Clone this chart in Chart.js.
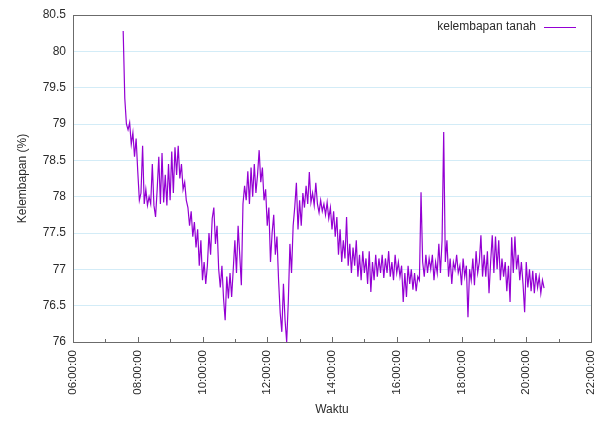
<!DOCTYPE html>
<html>
<head>
<meta charset="utf-8">
<title>Kelembapan tanah</title>
<script src="https://cdn.jsdelivr.net/npm/chart.js@4.4.1/dist/chart.umd.min.js"></script>
<style>
  html, body { margin: 0; padding: 0; background: #fff; }
  #wrap { width: 600px; height: 421px; }
</style>
</head>
<body>
<div id="wrap"><canvas id="chart" width="600" height="421"></canvas></div>
<script>
// --- DATA ---
// readings every 3 minutes, first one at 07:33
const startHour = 7.55;
const stepMinutes = 3;
const seriesLabel = "kelembapan tanah";
const moisture = [
  // 07:33 - 08:30
  80.28, 79.35, 79.00, 78.92, 79.02, 78.72, 78.88, 78.55, 78.80, 78.35,
  77.95, 78.05, 78.70, 77.90, 78.10, 77.88, 78.00, 77.90, 78.45, 77.88,
  // 08:33 - 09:30
  77.72, 78.10, 78.55, 77.90, 78.60, 77.92, 78.30, 77.88, 78.45, 77.95,
  78.62, 78.05, 78.68, 78.30, 78.70, 78.25, 78.45, 78.10, 78.20, 77.95,
  // 09:33 - 10:30
  77.85, 77.60, 77.80, 77.45, 77.65, 77.30, 77.55, 77.05, 77.40, 76.85,
  77.10, 76.80, 77.05, 77.50, 77.20, 77.70, 77.85, 77.35, 77.60, 77.00,
  // 10:33 - 11:30
  76.75, 77.05, 76.60, 76.30, 76.90, 76.60, 76.95, 76.62, 77.00, 77.40,
  76.95, 77.60, 77.20, 76.78, 77.90, 78.15, 77.95, 78.35, 77.90, 78.40,
  // 11:33 - 12:30
  78.00, 78.45, 78.05, 78.30, 78.64, 78.20, 78.40, 77.95, 78.10, 77.60,
  77.85, 77.10, 77.50, 77.75, 77.20, 77.45, 76.85, 76.40, 76.14, 76.80,
  // 12:33 - 13:30
  76.30, 76.00, 76.55, 77.35, 76.95, 77.60, 77.86, 78.19, 77.55, 77.95,
  77.60, 78.05, 77.85, 78.15, 77.90, 78.34, 77.92, 78.05, 77.88, 78.19,
  // 13:33 - 14:30
  77.90, 77.78, 77.95, 77.80, 77.90, 77.75, 77.92, 77.70, 77.85, 77.55,
  77.80, 77.45, 77.72, 77.20, 77.55, 77.10, 77.40, 77.15, 77.72, 77.05,
  // 14:33 - 15:30
  77.35, 76.95, 77.30, 77.05, 77.40, 76.90, 77.20, 76.85, 77.25, 76.95,
  77.15, 76.80, 77.25, 76.69, 77.10, 76.85, 77.20, 76.90, 77.15, 76.95,
  // 15:33 - 16:30
  77.20, 76.88, 77.15, 76.95, 77.25, 76.90, 77.10, 76.85, 77.20, 76.95,
  77.10, 76.90, 77.05, 76.55, 76.95, 76.62, 77.05, 76.80, 77.00, 76.72,
  // 16:33 - 17:30
  76.95, 76.70, 76.90, 76.85, 78.06, 77.10, 76.90, 77.20, 76.95, 77.15,
  77.00, 77.20, 76.85, 77.10, 76.95, 77.35, 76.95, 77.40, 78.89, 77.10,
  // 17:33 - 18:30
  77.40, 76.90, 77.15, 76.80, 77.10, 77.00, 77.20, 76.95, 77.05, 76.78,
  77.15, 76.90, 77.05, 76.34, 77.00, 76.85, 77.15, 76.78, 77.25, 76.95,
  // 18:33 - 19:30
  77.10, 77.47, 76.90, 77.20, 76.90, 77.25, 76.67, 77.10, 77.47, 76.95,
  77.45, 77.00, 77.40, 76.85, 77.15, 76.90, 77.10, 76.70, 77.05, 76.55,
  // 19:33 - 20:33
  77.44, 76.95, 77.45, 77.00, 77.20, 76.85, 77.10, 76.80, 76.41, 77.10,
  76.75, 77.00, 76.70, 76.98, 76.67, 76.95, 76.75, 76.90, 76.67, 76.85,
  76.74
];

// axis ranges (hours of the day / percent)
const xMin = 6, xMax = 22, xStep = 2;
const yMin = 76, yMax = 80.5, yStep = 0.5;

// --- STYLE ---
const LINE_COLOR = "#9400d3";
const GRID_COLOR = "#d3ecf7";
const BORDER_COLOR = "#6b6b6b";
const TEXT_COLOR = "#2b2b2b";
const FONT = "'Liberation Sans', Arial, Helvetica, sans-serif";

const points = moisture.map((v, i) => ({ x: startHour + i * stepMinutes / 60, y: v }));

function hourLabel(v) {
  const h = Math.round(v);
  return (h < 10 ? "0" + h : "" + h) + ":00:00";
}

// plot frame, inward hour ticks and the gnuplot-like key in the top right corner
const framePlugin = {
  id: "frame",
  afterDraw(chart) {
    const { ctx, chartArea: a, scales } = chart;
    ctx.save();
    ctx.strokeStyle = BORDER_COLOR;
    ctx.lineWidth = 1;
    ctx.strokeRect(a.left + 0.5, a.top + 0.5, a.right - a.left, a.bottom - a.top);

    // ticks every hour, longer on labelled ones
    for (let h = xMin + 1; h < xMax; h++) {
      const px = Math.round(scales.x.getPixelForValue(h)) + 0.5;
      const len = h % xStep === 0 ? 5 : 3;
      ctx.beginPath();
      ctx.moveTo(px, a.bottom);
      ctx.lineTo(px, a.bottom - len);
      ctx.stroke();
    }

    // key
    const ky = a.top + 12;
    ctx.font = "12px " + FONT;
    ctx.fillStyle = TEXT_COLOR;
    ctx.textAlign = "right";
    ctx.textBaseline = "middle";
    ctx.fillText(seriesLabel, a.right - 55, ky);
    ctx.strokeStyle = LINE_COLOR;
    ctx.beginPath();
    ctx.moveTo(a.right - 47, ky + 0.5);
    ctx.lineTo(a.right - 15, ky + 0.5);
    ctx.stroke();
    ctx.restore();
  }
};

const ctx = document.getElementById("chart").getContext("2d");
new Chart(ctx, {
  type: "line",
  data: {
    datasets: [{
      label: seriesLabel,
      data: points,
      borderColor: LINE_COLOR,
      borderWidth: 1.2,
      pointRadius: 0,
      tension: 0,
      fill: false
    }]
  },
  options: {
    responsive: false,
    animation: false,
    devicePixelRatio: 1,
    parsing: false,
    layout: { padding: { top: 15, right: 9, left: 0, bottom: 0 } },
    plugins: {
      legend: { display: false },
      tooltip: { enabled: false }
    },
    scales: {
      x: {
        type: "linear",
        min: xMin,
        max: xMax,
        grid: { display: false, drawTicks: false },
        border: { display: false },
        ticks: {
          stepSize: xStep,
          minRotation: 90,
          maxRotation: 90,
          padding: 8,
          color: TEXT_COLOR,
          font: { family: FONT, size: 11.5 },
          callback: hourLabel
        },
        title: {
          display: true,
          text: "Waktu",
          color: TEXT_COLOR,
          font: { family: FONT, size: 12 },
          padding: { top: 0, bottom: 4 }
        },
        afterFit(scale) {
          scale.height = 79;
          scale.paddingLeft = 0;
          scale.paddingRight = 0;
        }
      },
      y: {
        min: yMin,
        max: yMax,
        grid: { color: GRID_COLOR, lineWidth: 1, drawTicks: false },
        border: { display: false },
        ticks: {
          stepSize: yStep,
          padding: 7,
          color: TEXT_COLOR,
          font: { family: FONT, size: 12 },
          callback: v => String(Math.round(v * 10) / 10)
        },
        title: {
          display: true,
          text: "Kelembapan (%)",
          color: TEXT_COLOR,
          font: { family: FONT, size: 12 },
          padding: { top: 15, bottom: 0 }
        },
        afterFit(scale) {
          scale.width = 73;
          scale.paddingTop = 0;
          scale.paddingBottom = 0;
        }
      }
    }
  },
  plugins: [framePlugin]
});
</script>
</body>
</html>
